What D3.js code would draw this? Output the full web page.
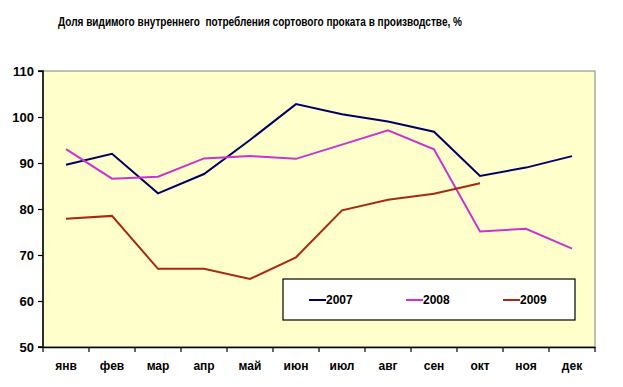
<!DOCTYPE html>
<html>
<head>
<meta charset="utf-8">
<script src="https://cdn.jsdelivr.net/npm/d3@7"></script>
<style>
  body { margin: 0; background: #fff; }
  text { font-family: Arial, "Liberation Sans", sans-serif; font-weight: bold; }
</style>
</head>
<body>
<script>
//Data
const months = ["янв", "фев", "мар", "апр", "май", "июн", "июл", "авг", "сен", "окт", "ноя", "дек"];
const yTicks = [50, 60, 70, 80, 90, 100, 110];
const years = ["2007", "2008", "2009"];
const values2007 = [89.6, 92.0, 83.4, 87.6, 95.0, 102.8, 100.6, 99.0, 96.8, 87.2, 89.0, 91.5];
const values2008 = [93.0, 86.6, 87.0, 91.0, 91.5, 90.9, 94.0, 97.1, 93.0, 75.1, 75.7, 71.4];
const values2009 = [77.9, 78.5, 67.0, 67.0, 64.8, 69.5, 79.7, 82.0, 83.3, 85.6];
const colors = ["#000066", "#cc33cc", "#a52a10"];

//Variables
const width = 623;
const height = 387;
const margin = {top: 71, right: 28, bottom: 40, left: 43};

const svg = d3.select("body")
    .append("svg")
    .attr("width", width)
    .attr("height", height);

//Title
svg.append("text")
    .text("Доля видимого внутреннего  потребления сортового проката в производстве, %")
    .attr("x", 58)
    .attr("y", 26)
    .attr("textLength", 404)
    .attr("lengthAdjust", "spacingAndGlyphs")
    .style("font-size", "12px")
    .style("white-space", "pre");

//Scales
const xScale = d3.scaleBand()
    .domain(months)
    .range([margin.left, width - margin.right]);

const yScale = d3.scaleLinear()
    .domain([50, 110])
    .range([height - margin.bottom, margin.top]);

//Plot area
svg.append("rect")
    .attr("x", margin.left)
    .attr("y", margin.top)
    .attr("width", width - margin.left - margin.right)
    .attr("height", height - margin.top - margin.bottom)
    .attr("fill", "#ffffcc")
    .attr("stroke", "#808080")
    .attr("stroke-width", 1);

//Axes
const xAxis = d3.axisBottom(xScale).tickSize(0).tickPadding(14);
const gx = svg.append("g")
    .attr("transform", `translate(0, ${height - margin.bottom})`)
    .call(xAxis);
gx.select(".domain").attr("stroke", "#000").attr("stroke-width", 1.5);
gx.selectAll("text").style("font-size", "12px").attr("fill", "#000");

// month boundary ticks
svg.selectAll(".xtick")
    .data(months.concat([null]))
    .enter()
    .append("line")
    .attr("x1", (d, i) => xScale.range()[0] + i * xScale.bandwidth())
    .attr("x2", (d, i) => xScale.range()[0] + i * xScale.bandwidth())
    .attr("y1", height - margin.bottom)
    .attr("y2", height - margin.bottom + 5)
    .attr("stroke", "#000")
    .attr("stroke-width", 1.2);

const yAxis = d3.axisLeft(yScale).tickValues(yTicks).tickSize(5).tickPadding(4);
const gy = svg.append("g")
    .attr("transform", `translate(${margin.left}, 0)`)
    .call(yAxis);
gy.select(".domain").attr("stroke", "#000").attr("stroke-width", 1.5).attr("d", `M-5,${margin.top}H0V${height - margin.bottom}H-5`);
gy.selectAll("line").attr("stroke", "#000").attr("stroke-width", 1.2);
gy.selectAll("text").style("font-size", "13px").attr("fill", "#000");

//Lines
const series = [values2007, values2008, values2009];
const line = d3.line()
    .x((d, i) => xScale(months[i]) + xScale.bandwidth() / 2)
    .y(d => yScale(d));

svg.selectAll(".series")
    .data(series)
    .enter()
    .append("path")
    .attr("d", d => line(d))
    .attr("fill", "none")
    .attr("stroke", (d, i) => colors[i])
    .attr("stroke-width", 2)
    .attr("stroke-linejoin", "miter");

//Legend
const legend = svg.append("g");
legend.append("rect")
    .attr("x", 283)
    .attr("y", 279)
    .attr("width", 292)
    .attr("height", 41)
    .attr("fill", "#fff")
    .attr("stroke", "#000")
    .attr("stroke-width", 1.2);

const items = legend.selectAll(".item")
    .data(years)
    .enter()
    .append("g")
    .attr("transform", (d, i) => `translate(${309 + i * 97}, 300)`);

items.append("line")
    .attr("x1", 0)
    .attr("x2", 17)
    .attr("stroke", (d, i) => colors[i])
    .attr("stroke-width", 2);

items.append("text")
    .text(d => d)
    .attr("x", 17)
    .attr("dy", "0.35em")
    .style("font-size", "12px");
</script>
</body>
</html>
